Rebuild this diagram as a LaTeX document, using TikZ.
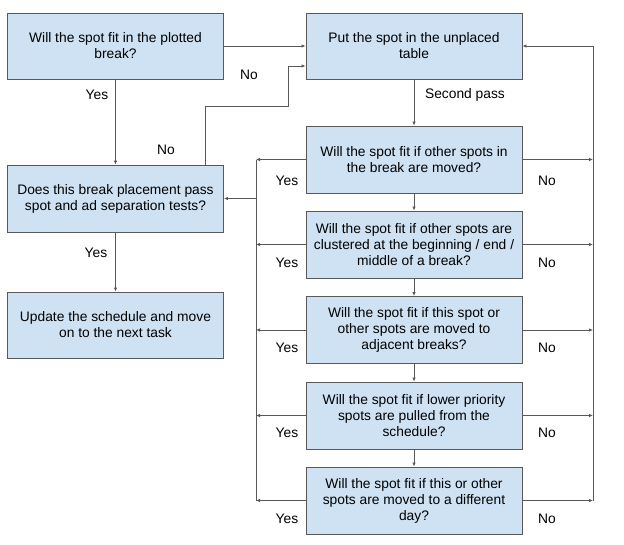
\documentclass[tikz,border=0pt]{standalone}
\usepackage{fontspec}
\setmainfont{Liberation Sans}
\usetikzlibrary{arrows.meta}
\definecolor{boxfill}{HTML}{CFE2F3}
\definecolor{edge}{HTML}{595959}
\begin{document}
\begin{tikzpicture}[x=1pt,y=-1pt,
 box/.style={draw=edge, fill=boxfill, line width=0.9pt, minimum width=216pt, minimum height=66pt, align=center, font=\fontsize{13.8}{16}\selectfont, inner sep=0pt},
 conn/.style={draw=edge, line width=0.8pt},
 arr/.style={conn, -{Latex[length=4pt,width=3.5pt]}},
 lbl/.style={font=\fontsize{13.8}{16}\selectfont}
]
\useasboundingbox (0,0) rectangle (624,544);
\node[box] (b1) at (115.5,46) {Will the spot fit in the plotted\\break?};
\node[box, minimum height=67pt] (b2) at (115.5,198.5) {Does this break placement pass\\spot and ad separation tests?};
\node[box] (b3) at (115.5,325) {Update the schedule and move\\on to the next task};
\node[box] (put) at (414,46) {Put the spot in the unplaced\\table};
\node[box, minimum height=67pt] (qa) at (414,159.5) {Will the spot fit if other spots in\\the break are moved?};
\node[box, minimum height=67pt] (qb) at (414,244.5) {Will the spot fit if other spots are\\clustered at the beginning / end /\\middle of a break?};
\node[box, minimum height=67pt] (qc) at (414,330) {Will the spot fit if this spot or\\other spots are moved to\\adjacent breaks?};
\node[box, minimum height=67pt] (qd) at (414,415.5) {Will the spot fit if lower priority\\spots are pulled from the\\schedule?};
\node[box, minimum height=67pt] (qe) at (414,500.5) {Will the spot fit if this or other\\spots are moved to a different\\day?};
\coordinate (lrail) at (256,0);
\coordinate (rrail) at (593,0);
\coordinate (nobend1) at (205,106);
\coordinate (nobend2) at (288,66);
% top connections
\draw[arr] (b1.east) -- (put.west);
\draw[arr] (b1.south) -- (b2.north);
\draw[arr] (b2.north -| nobend1) -- (nobend1) -- (nobend1 -| nobend2) -- (nobend2) -- (nobend2 -| put.west);
\draw[arr] (b2.south) -- (b3.north);
% vertical chain
\draw[arr] (put.south) -- (qa.north);
\draw[arr] (qa.south) -- (qb.north);
\draw[arr] (qb.south) -- (qc.north);
\draw[arr] (qc.south) -- (qd.north);
\draw[arr] (qd.south) -- (qe.north);
% left rail
\foreach \n in {qa,qb,qc,qd,qe} \draw[arr] (\n.west) -- (\n.west -| lrail);
\draw[conn] (qa.west -| lrail) -- (qe.west -| lrail);
\draw[arr] (lrail |- b2.east) -- (b2.east);
% right rail
\foreach \n in {qa,qb,qc,qd,qe} \draw[arr] (\n.east) -- (\n.east -| rrail);
\draw[conn] (qe.east -| rrail) -- (put.east -| rrail);
\draw[arr] (put.east -| rrail) -- (put.east);
% labels
\node[lbl] (l1) at (97,95) {Yes};
\node[lbl] (l2) at (249,75) {No};
\node[lbl] (l3) at (166,150) {No};
\node[lbl] (l4) at (96,253) {Yes};
\node[lbl] (l5) at (465,95) {Second pass};
\foreach \y [count=\i] in {181,263,348,433,519} {
  \node[lbl] (y\i) at (287,\y) {Yes};
  \node[lbl] (n\i) at (547,\y) {No};
}
\end{tikzpicture}
\end{document}
